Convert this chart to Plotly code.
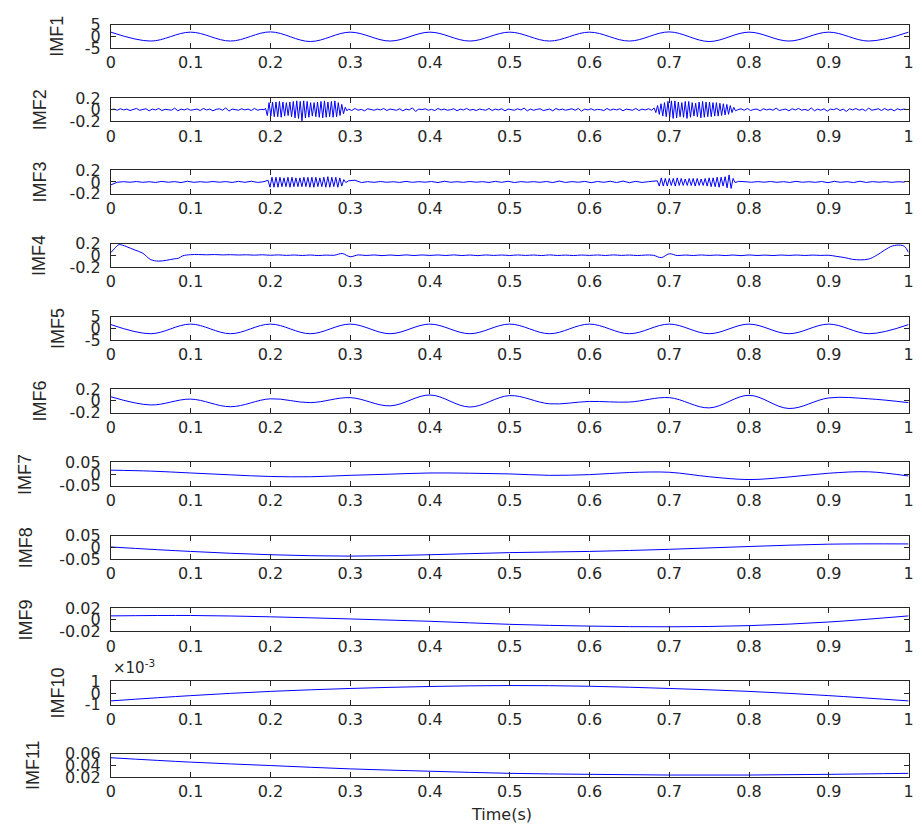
import numpy as np
import plotly.graph_objects as go

# ---------------- data ----------------
t_05 = [0, 0.05, 0.1, 0.15, 0.2, 0.25, 0.3, 0.35, 0.4, 0.45, 0.5,
        0.55, 0.6, 0.65, 0.7, 0.75, 0.8, 0.85, 0.9, 0.95, 1.0]
t_10 = [0, 0.1, 0.2, 0.3, 0.4, 0.5, 0.6, 0.7, 0.8, 0.9, 1.0]

imf1 = [1.8, -2.0, 1.8, -2.0, 1.9, -2.2, 1.8, -2.0, 1.8, -2.0, 1.8,
        -2.0, 1.8, -2.0, 1.9, -2.2, 1.8, -2.0, 1.8, -2.0, 1.8]

imf5 = [1.7, -2.2, 1.9, -2.2, 1.9, -2.2, 1.9, -2.2, 1.9, -2.2, 1.9,
        -2.2, 1.9, -2.2, 1.9, -2.2, 1.9, -2.2, 1.9, -2.2, 1.7]

imf6 = [0.07, -0.07, 0.03, -0.10, 0.035, -0.03, 0.055, -0.085, 0.10, -0.105, 0.09,
        -0.05, -0.01, -0.02, 0.055, -0.12, 0.095, -0.13, 0.05, 0.035, -0.03]

imf7 = [0.017, 0.013, 0.005, -0.003, -0.010, -0.011, -0.005, 0.0, 0.005, 0.004, 0.001,
        -0.005, -0.002, 0.007, 0.008, -0.011, -0.023, -0.012, 0.004, 0.010, -0.008]

imf8 = [0.002, -0.017, -0.031, -0.037, -0.031, -0.022, -0.017, -0.008, 0.004, 0.014, 0.015]
imf9 = [0.0066, 0.0073, 0.005, 0.0014, -0.0026, -0.0078, -0.0108, -0.012, -0.010, -0.0038, 0.0066]
imf10 = [-0.00067, -0.00022, 0.00014, 0.00039, 0.00056, 0.00064, 0.00058, 0.00039, 0.00014, -0.00022, -0.00067]
imf11 = [0.053, 0.0455, 0.0397, 0.034, 0.030, 0.0264, 0.0247, 0.0235, 0.0235, 0.0247, 0.0264]

# IMF4: end effects plus small ripples
imf4_t_start = [0, 0.005, 0.01, 0.015, 0.02, 0.03, 0.04, 0.05, 0.06, 0.07, 0.08, 0.085, 0.09, 0.1]
imf4_v_start = [0.045, 0.12, 0.18, 0.17, 0.145, 0.09, 0.035, -0.075, -0.10, -0.085, -0.06, -0.05, -0.01, 0.01]
imf4_ripple = [0.012, 0.008, 0.012, 0.006, 0.01, 0.004, 0.008, 0.002, 0.008, 0.0,
               0.006, -0.002, 0.004, -0.004, 0.004, -0.005, 0.003, 0.0, 0.03, -0.025,
               0.006, -0.004, 0.005, -0.006, 0.004, -0.005, 0.006, -0.004, 0.005, -0.003,
               0.005, -0.004, 0.006, -0.005, 0.004, -0.006, 0.005, -0.003, 0.004, -0.004,
               0.005, -0.003, 0.004, -0.005, 0.006, -0.004, 0.003, -0.005, 0.004, -0.003,
               0.005, -0.004, 0.006, -0.003, 0.004, -0.005, 0.003, 0.0, -0.04, 0.025,
               -0.005, 0.004, -0.004, 0.005, -0.003, 0.004, -0.005, 0.004, -0.006, 0.005,
               -0.004, 0.003, -0.005, 0.004, -0.003, 0.004, -0.004, 0.003, -0.003]
imf4_ripple_t0 = 0.11
imf4_ripple_dt = 0.01
imf4_t_end = [0.9, 0.91, 0.92, 0.93, 0.94, 0.95, 0.96, 0.97, 0.98, 0.99, 0.995, 1.0]
imf4_v_end = [0.0, -0.02, -0.04, -0.07, -0.078, -0.065, 0.0, 0.088, 0.16, 0.172, 0.15, 0.045]

# IMF2: background noise segments and two bursts (alternating extremes)
imf2_bg_a = [0.00, 0.01, -0.01, 0.015, -0.005, 0.01, -0.015, 0.005, 0.02, -0.01,
             0.0, 0.015, -0.02, 0.01, -0.005, 0.02, -0.015, 0.005, 0.0, -0.01,
             0.025, -0.02, 0.01, -0.005, 0.015, -0.01, 0.0, 0.01, -0.015, 0.02,
             -0.005, 0.01, -0.02, 0.005, 0.015, -0.01, 0.03, -0.025, 0.01, 0.0,
             -0.01, 0.015, -0.005, 0.01, -0.015, 0.02, -0.01, 0.005, 0.0]
imf2_burst_1 = [0.02, -0.10, 0.12, -0.11, 0.13, -0.12, 0.13, -0.12, 0.14, -0.13,
                0.13, -0.11, 0.12, -0.10, 0.13, -0.12, 0.14, -0.14, 0.15, -0.15,
                0.14, -0.19, 0.15, -0.14, 0.14, -0.13, 0.12, -0.11, 0.12, -0.12,
                0.13, -0.13, 0.14, -0.14, 0.15, -0.13, 0.13, -0.12, 0.14, -0.13,
                0.15, -0.12, 0.12, -0.10, 0.09, -0.07, 0.04, -0.02]
imf2_bg_b = [0.01, -0.015, 0.02, -0.01, 0.005, -0.02, 0.015, 0.0, -0.01, 0.01,
             -0.005, 0.02, -0.015, 0.01, 0.0, -0.01, 0.015, -0.02, 0.01, -0.005,
             0.03, -0.03, 0.01, 0.0, 0.015, -0.01, 0.005, -0.015, 0.02, -0.005,
             0.01, -0.01, 0.0, 0.015, -0.02, 0.01, -0.005, 0.02, -0.01, 0.005,
             -0.015, 0.01, 0.0, -0.01, 0.02, -0.015, 0.01, -0.005, 0.015, -0.02,
             0.01, 0.0, -0.01, 0.015, -0.005, 0.025, -0.02, 0.01, -0.01, 0.005,
             0.015, -0.015, 0.0, 0.01, -0.02, 0.02, -0.005, 0.01, -0.01, 0.0,
             0.015, -0.01, 0.02, -0.025, 0.01, -0.005, 0.015, -0.01, 0.005, 0.0,
             -0.015, 0.02, -0.01, 0.01, -0.005, 0.015, -0.02, 0.01, 0.0, -0.01,
             0.02, -0.015, 0.01, -0.005, 0.015, -0.01]
imf2_burst_2 = [0.03, -0.05, 0.07, -0.08, 0.10, -0.11, 0.12, -0.12, 0.14, -0.13,
                0.15, -0.15, 0.15, -0.14, 0.13, -0.12, 0.12, -0.13, 0.14, -0.15,
                0.14, -0.13, 0.12, -0.11, 0.11, -0.12, 0.13, -0.14, 0.14, -0.13,
                0.13, -0.12, 0.13, -0.12, 0.12, -0.11, 0.12, -0.11, 0.11, -0.10,
                0.10, -0.09, 0.09, -0.08, 0.07, -0.05, 0.04, -0.02]
imf2_bg_c = [0.0, 0.015, -0.01, 0.02, -0.015, 0.005, 0.01, -0.02, 0.015, -0.005,
             0.01, -0.01, 0.025, -0.015, 0.0, 0.01, -0.02, 0.015, -0.005, 0.02,
             -0.01, 0.005, -0.015, 0.03, -0.02, 0.01, -0.01, 0.015, -0.025, 0.01,
             0.0, 0.02, -0.015, 0.01, -0.03, 0.015, -0.005, 0.02, -0.01, 0.01,
             -0.02, 0.025, -0.01, 0.005, 0.015, -0.015, 0.02, -0.01, 0.01, -0.02,
             0.015, -0.005, 0.01, 0.0]
# (segment start time, sample step) for each IMF2 piece
imf2_pieces_t = [(0.0, 0.004), (0.194, 0.00217), (0.298, 0.004), (0.681, 0.00217), (0.786, 0.004)]

# IMF3: background ripples and two bursts
imf3_bg_a = [-0.05, -0.005, 0.005, -0.005, 0.008, -0.006, 0.004, -0.008, 0.01, -0.005,
             0.006, -0.01, 0.012, -0.006, 0.004, -0.005, 0.008, -0.004, 0.006, -0.008,
             0.01, -0.006, 0.012, -0.008, 0.005]
imf3_burst_1 = [0.03, -0.09, 0.08, -0.09, 0.08, -0.09, 0.08, -0.08, 0.07, -0.08,
                0.08, -0.09, 0.08, -0.08, 0.07, -0.08, 0.07, -0.08, 0.08, -0.08,
                0.08, -0.09, 0.08, -0.09, 0.08, -0.08, 0.07, -0.08, 0.08, -0.09,
                0.09, -0.09, 0.08, -0.08, 0.08, -0.09, 0.07, -0.07, 0.04, -0.01]
imf3_bg_b = [0.02, 0.03, -0.01, 0.005, -0.006, 0.008, -0.005, 0.004, -0.008, 0.01,
             -0.006, 0.005, -0.004, 0.008, -0.01, 0.012, -0.005, 0.004, -0.006, 0.008,
             -0.004, 0.005, -0.008, 0.01, -0.006, 0.012, -0.01, 0.006, -0.004, 0.005,
             -0.006, 0.008, -0.01, 0.015, -0.008, 0.006, -0.005, 0.01, -0.012, 0.008,
             -0.006, 0.012, -0.01, 0.015, -0.012, 0.01, -0.008, 0.005]
imf3_burst_2 = [0.02, -0.07, 0.07, -0.07, 0.06, -0.07, 0.06, -0.06, 0.06, -0.07,
                0.07, -0.06, 0.06, -0.06, 0.05, -0.06, 0.06, -0.06, 0.06, -0.07,
                0.06, -0.06, 0.05, -0.06, 0.06, -0.07, 0.07, -0.08, 0.07, -0.08,
                0.08, -0.09, 0.08, -0.07, 0.09, -0.10, 0.12, -0.11, 0.06, -0.01]
imf3_bg_c = [0.01, 0.004, -0.005, 0.006, -0.004, 0.008, -0.006, 0.005, -0.008, 0.01,
             -0.005, 0.004, -0.006, 0.008, -0.012, 0.01, -0.006, 0.005, -0.01, 0.012,
             -0.008, 0.006, -0.004, 0.005, -0.006, 0.004, -0.003]
imf3_pieces_t = [(0.0, 0.008), (0.197, 0.0025), (0.298, 0.008), (0.685, 0.0025), (0.787, 0.008)]

names = ["IMF1", "IMF2", "IMF3", "IMF4", "IMF5", "IMF6", "IMF7", "IMF8", "IMF9", "IMF10", "IMF11"]
x_ticks = [0, 0.1, 0.2, 0.3, 0.4, 0.5, 0.6, 0.7, 0.8, 0.9, 1]
x_ticktext = ["0", "0.1", "0.2", "0.3", "0.4", "0.5", "0.6", "0.7", "0.8", "0.9", "1"]
y_ranges = [[-5, 5], [-0.2, 0.2], [-0.2, 0.2], [-0.2, 0.2], [-5, 5], [-0.2, 0.2],
            [-0.05, 0.05], [-0.05, 0.05], [-0.02, 0.02], [-0.001, 0.001], [0.02, 0.06]]
y_tickvals = [[-5, 0, 5], [-0.2, 0, 0.2], [-0.2, 0, 0.2], [-0.2, 0, 0.2], [-5, 0, 5], [-0.2, 0, 0.2],
              [-0.05, 0, 0.05], [-0.05, 0, 0.05], [-0.02, 0, 0.02], [-0.001, 0, 0.001], [0.02, 0.04, 0.06]]
y_ticktext = [["-5", "0", "5"], ["-0.2", "0", "0.2"], ["-0.2", "0", "0.2"], ["-0.2", "0", "0.2"],
              ["-5", "0", "5"], ["-0.2", "0", "0.2"], ["-0.05", "0", "0.05"], ["-0.05", "0", "0.05"],
              ["-0.02", "0", "0.02"], ["-1", "0", "1"], ["0.02", "0.04", "0.06"]]


def pieces(segs, starts):
    tt, vv = [], []
    for vals, (t0, dt) in zip(segs, starts):
        tt.extend(t0 + dt * np.arange(len(vals)))
        vv.extend(vals)
    return tt, vv


imf2_t, imf2_v = pieces([imf2_bg_a, imf2_burst_1, imf2_bg_b, imf2_burst_2, imf2_bg_c], imf2_pieces_t)
imf3_t, imf3_v = pieces([imf3_bg_a, imf3_burst_1, imf3_bg_b, imf3_burst_2, imf3_bg_c], imf3_pieces_t)
imf4_t = list(imf4_t_start) + list(imf4_ripple_t0 + imf4_ripple_dt * np.arange(len(imf4_ripple))) + list(imf4_t_end)
imf4_v = list(imf4_v_start) + list(imf4_ripple) + list(imf4_v_end)

series = [
    (t_05, imf1, "spline"), (imf2_t, imf2_v, "linear"), (imf3_t, imf3_v, "linear"),
    (imf4_t, imf4_v, "spline"), (t_05, imf5, "spline"), (t_05, imf6, "spline"),
    (t_05, imf7, "spline"), (t_10, imf8, "spline"), (t_10, imf9, "spline"),
    (t_10, imf10, "spline"), (t_10, imf11, "spline"),
]

# ---------------- layout ----------------
W, H = 922, 834
tops = [16, 91, 165, 240, 315, 389, 464, 539, 613, 688, 762]
ph = 24
x_left, x_right = 107, 913.5
title_x = [53, 35, 35, 35, 53, 35, 20, 22, 21, 54, 29]
axis_col = "#262626"
tick_font = dict(family="DejaVu Sans", size=16, color=axis_col)

fig = go.Figure()
layout = dict(width=W, height=H, margin=dict(l=0, r=0, t=0, b=0),
              plot_bgcolor="white", paper_bgcolor="white", showlegend=False)
annotations = []

for i, (tx, ty, shape) in enumerate(series):
    k = i + 1
    sfx = "" if k == 1 else str(k)
    fig.add_trace(go.Scatter(x=tx, y=ty, mode="lines", xaxis="x" + sfx, yaxis="y" + sfx,
                             line=dict(color="#0000FF", width=1, shape=shape),
                             hoverinfo="skip"))
    y0 = 1 - (tops[i] + ph) / H
    y1 = 1 - tops[i] / H
    layout["xaxis" + sfx] = dict(domain=[x_left / W, x_right / W], range=[0, 1], anchor="y" + sfx,
                                 tickvals=x_ticks, ticktext=x_ticktext, ticks="inside", ticklen=5,
                                 tickcolor=axis_col, showline=True, linecolor=axis_col, linewidth=1,
                                 mirror="ticks", showgrid=False, zeroline=False, tickfont=tick_font,
                                 ticklabelstandoff=0, fixedrange=True)
    layout["yaxis" + sfx] = dict(domain=[y0, y1], range=y_ranges[i], anchor="x" + sfx,
                                 tickvals=y_tickvals[i], ticktext=y_ticktext[i], ticks="inside", ticklen=5,
                                 tickcolor=axis_col, showline=True, linecolor=axis_col, linewidth=1,
                                 mirror="ticks", showgrid=False, zeroline=False, tickfont=tick_font,
                                 ticklabelstandoff=6, fixedrange=True)
    annotations.append(dict(text=names[i], x=title_x[i] / W, y=(y0 + y1) / 2, xref="paper", yref="paper",
                            xanchor="center", yanchor="middle", textangle=-90, showarrow=False,
                            font=dict(family="Liberation Sans", size=18, color=axis_col)))

annotations.append(dict(text="×10<sup>-3</sup>", x=x_left / W, y=1 - (tops[9] - 2) / H, xref="paper", yref="paper",
                        xanchor="left", yanchor="bottom", showarrow=False,
                        font=dict(family="DejaVu Sans", size=15, color=axis_col)))
annotations.append(dict(text="Time(s)", x=502 / W, y=1 - 824 / H, xref="paper", yref="paper",
                        xanchor="center", yanchor="middle", showarrow=False,
                        font=dict(family="DejaVu Sans", size=16, color=axis_col)))
layout["annotations"] = annotations
fig.update_layout(**layout)
fig.write_html("out.html")
